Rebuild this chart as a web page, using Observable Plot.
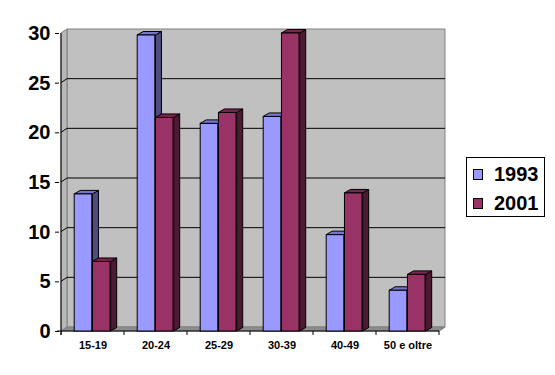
<!DOCTYPE html>
<html>
<head>
<meta charset="utf-8">
<script src="https://cdn.jsdelivr.net/npm/d3@7"></script>
<script src="https://cdn.jsdelivr.net/npm/@observablehq/plot@0.6"></script>
<style>
  html, body { margin: 0; padding: 0; background: #fff; }
  #wrap { position: relative; width: 555px; height: 375px; font-family: "Liberation Sans", Arial, sans-serif; }
  #legend { position: absolute; left: 466px; top: 157px; width: 77px; height: 58px; border: 1px solid #000; background: #fff; }
  .item { position: absolute; left: 6px; height: 24px; display: flex; align-items: center; font-weight: bold; font-size: 20px; color: #000; }
  .sw { width: 8px; height: 9px; border: 1px solid #000; margin-right: 11px; }
</style>
</head>
<body>
<div id="wrap"></div>
<script>
const categories = ["15-19", "20-24", "25-29", "30-39", "40-49", "50 e oltre"];
const series = ["1993", "2001"];
const values1993 = [13.8, 29.8, 20.9, 21.6, 9.7, 4.1];
const values2001 = [7.0, 21.5, 22.0, 30.0, 13.9, 5.7];
const yTicks = [0, 5, 10, 15, 20, 25, 30];

const colors = {
  "1993": {front: "#9999FF", top: "#7676C6", side: "#4D4D80"},
  "2001": {front: "#993366", top: "#762750", side: "#4D1A33"}
};

const data1993 = categories.map((c, i) => ({cat: c, value: values1993[i]}));
const data2001 = categories.map((c, i) => ({cat: c, value: values2001[i]}));

const W = 555, H = 375;
const DX = 6, DY = 4;        // wall depth
const BDX = 6, BDY = 3.5;    // bar depth
const off = [13.2, 31.45, 49.7]; // bar offsets inside a category band (px)

function bw(x) {
  if (typeof x.bandwidth === "function") return x.bandwidth();
  if (typeof x.bandwidth === "number") return x.bandwidth;
  return x(categories[1]) - x(categories[0]);
}

function poly(g, pts, fill, stroke, sw = 1) {
  g.append("polygon")
    .attr("points", pts.map(p => p.join(",")).join(" "))
    .attr("fill", fill)
    .attr("stroke", stroke)
    .attr("stroke-width", sw)
    .attr("stroke-linejoin", "miter");
}

// walls, floor, gridlines, axis lines
function walls(index, scales) {
  const {x, y} = scales;
  const b = bw(x);
  const x0 = x(categories[0]);
  const x1 = x(categories[categories.length - 1]) + b;
  const y0 = y(0), yTop = y(30);
  const g = d3.create("svg:g");
  // back wall
  poly(g, [[x0 + DX, yTop - DY], [x1 + DX, yTop - DY], [x1 + DX, y0 - DY], [x0 + DX, y0 - DY]], "#C0C0C0", "#808080");
  // left wall
  poly(g, [[x0, yTop], [x0 + DX, yTop - DY], [x0 + DX, y0 - DY], [x0, y0]], "#B8B8B8", "#808080");
  // floor
  poly(g, [[x0, y0], [x0 + DX, y0 - DY], [x1 + DX, y0 - DY], [x1, y0]], "#8C8C8C", "#808080");
  // gridlines
  for (const t of yTicks) {
    if (t === 0 || t === 30) continue;
    g.append("polyline")
      .attr("points", `${x0},${y(t)} ${x0 + DX},${y(t) - DY} ${x1 + DX},${y(t) - DY}`)
      .attr("fill", "none").attr("stroke", "#000").attr("stroke-width", 1);
  }
  // front vertical axis
  g.append("line").attr("x1", x0).attr("x2", x0).attr("y1", yTop).attr("y2", y0 + 4)
    .attr("stroke", "#000");
  // front horizontal axis
  g.append("line").attr("x1", x0 - 4).attr("x2", x1).attr("y1", y0).attr("y2", y0)
    .attr("stroke", "#000");
  g.append("line").attr("x1", x1).attr("x2", x1 + DX).attr("y1", y0).attr("y2", y0 - DY)
    .attr("stroke", "#808080");
  // category boundary ticks
  for (let i = 0; i <= categories.length; i++) {
    const xx = x0 + i * b;
    g.append("line").attr("x1", xx).attr("x2", xx).attr("y1", y0).attr("y2", y0 + 4)
      .attr("stroke", "#000");
  }
  return g.node();
}

// side and top faces of a series' bars
function faces(vals, s) {
  const col = colors[series[s]];
  return (index, scales) => {
    const {x, y} = scales;
    const g = d3.create("svg:g");
    categories.forEach((c, i) => {
      const b = x(c);
      const L = b + off[s], R = b + off[s + 1];
      const T = y(vals[i]), B = y(0);
      poly(g, [[R, B], [R + BDX, B - BDY], [R + BDX, T - BDY], [R, T]], col.side, "#000");
      poly(g, [[L, T], [L + BDX, T - BDY], [R + BDX, T - BDY], [R, T]], col.top, "#000");
    });
    return g.node();
  };
}

const bandW = (W - 59 - 114) / categories.length;

const chart = Plot.plot({
  width: W,
  height: H,
  marginLeft: 59,
  marginRight: 114,
  marginTop: 33,
  marginBottom: 44,
  style: {fontFamily: "'Liberation Sans', Arial, sans-serif", background: "#fff", color: "#000"},
  x: {type: "band", domain: categories, padding: 0, axis: null},
  y: {domain: [0, 30], axis: null},
  marks: [
    walls,
    faces(values1993, 0),
    Plot.barY(data1993, {
      x: "cat", y: "value",
      fill: colors["1993"].front, stroke: "#000", strokeWidth: 1,
      insetLeft: off[0], insetRight: bandW - off[1]
    }),
    faces(values2001, 1),
    Plot.barY(data2001, {
      x: "cat", y: "value",
      fill: colors["2001"].front, stroke: "#000", strokeWidth: 1,
      insetLeft: off[1], insetRight: bandW - off[2]
    }),
    Plot.axisY({ticks: yTicks, tickSize: 4, tickPadding: 5, fontSize: 20, fontWeight: "bold", label: null, stroke: "#000"}),
    Plot.axisX({tickSize: 0, tickPadding: 10, fontSize: 11, fontWeight: "bold", label: null})
  ]
});

const wrap = document.getElementById("wrap");
wrap.appendChild(chart);

const legend = document.createElement("div");
legend.id = "legend";
series.forEach((s, i) => {
  const it = document.createElement("div");
  it.className = "item";
  it.style.top = (4 + i * 29) + "px";
  const sw = document.createElement("span");
  sw.className = "sw";
  sw.style.background = colors[s].front;
  const tx = document.createElement("span");
  tx.textContent = s;
  it.appendChild(sw);
  it.appendChild(tx);
  legend.appendChild(it);
});
wrap.appendChild(legend);
</script>
</body>
</html>
